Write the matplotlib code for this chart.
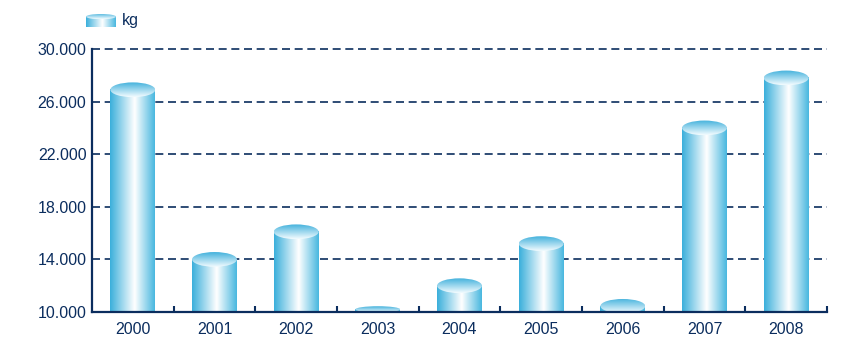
import matplotlib
matplotlib.use('Agg')
import matplotlib.pyplot as plt
import numpy as np
from matplotlib.patches import Ellipse
from matplotlib.colors import LinearSegmentedColormap

# values
years = ['2000', '2001', '2002', '2003', '2004', '2005', '2006', '2007', '2008']
kg = [26900, 14000, 16100, 10200, 12000, 15200, 10450, 24000, 27800]
y_ticks = [10000, 14000, 18000, 22000, 26000, 30000]
y_labels = ['10.000', '14.000', '18.000', '22.000', '26.000', '30.000']

navy = '#0b2d5e'
plt.rcParams['font.family'] = ['Liberation Sans', 'DejaVu Sans']

side = LinearSegmentedColormap.from_list(
    'side', [(0, '#3aafdb'), (0.55, '#ffffff'), (1, '#48b7df')])
top = LinearSegmentedColormap.from_list(
    'top', [(0, '#42b1dc'), (1, '#f4fcff')])


def cylinder(ax, x, val, base, w, cap):
    grad = np.linspace(0, 1, 256).reshape(1, -1)
    ax.imshow(grad, cmap=side, extent=(x - w / 2, x + w / 2, base, val),
              aspect='auto', interpolation='bilinear', zorder=3)
    ch = min(cap, (val - base) * 1.2)
    e = Ellipse((x, val), w, 2 * ch, fc='none', ec='none')
    ax.add_patch(e)
    vgrad = np.linspace(0, 1, 256).reshape(-1, 1)
    im = ax.imshow(vgrad, cmap=top, extent=(x - w / 2, x + w / 2, val - ch, val + ch),
                   aspect='auto', interpolation='bilinear', zorder=4)
    im.set_clip_path(e)


fig = plt.figure(figsize=(8.57, 3.55), dpi=100)
ax = fig.add_axes([92 / 857, 43 / 355, 735 / 857, 263 / 355])

for i, v in enumerate(kg):
    cylinder(ax, i, v, 10000, 0.55, 560)

ax.set_xlim(-0.5, len(years) - 0.5)
ax.set_ylim(10000, 30000)

for t in y_ticks[1:]:
    ax.axhline(t, color=navy, lw=1.2, linestyle=(0, (4.8, 2.8)), zorder=1, clip_on=False)

ax.set_yticks(y_ticks)
ax.set_yticklabels(y_labels)
ax.set_xticks(range(len(years)))
ax.set_xticklabels(years)
ax.set_xticks(np.arange(0.5, len(years)), minor=True)
ax.tick_params(axis='x', which='major', length=0, pad=7, labelsize=11.5, labelcolor=navy)
ax.tick_params(axis='x', which='minor', direction='in', length=4.5, width=1.5, color=navy)
ax.tick_params(axis='y', length=0, pad=4, labelsize=11.5, labelcolor=navy)

for s in ['top', 'right']:
    ax.spines[s].set_visible(False)
for s in ['left', 'bottom']:
    ax.spines[s].set_color(navy)
    ax.spines[s].set_linewidth(1.6)
    ax.spines[s].set_zorder(5)

# legend
lax = fig.add_axes([86 / 857, 1 - 27 / 355, 30 / 857, 13 / 355])
lax.set_xlim(-0.5, 0.5)
lax.set_ylim(0, 1)
lax.axis('off')
cylinder(lax, 0, 0.8, 0, 1.0, 0.2)
lax.set_xlim(-0.5, 0.5)
lax.set_ylim(0, 1)
fig.text(122 / 857, 1 - 21 / 355, 'kg', va='center', ha='left', fontsize=11.5, color=navy)

fig.savefig('out.png', dpi=100)
